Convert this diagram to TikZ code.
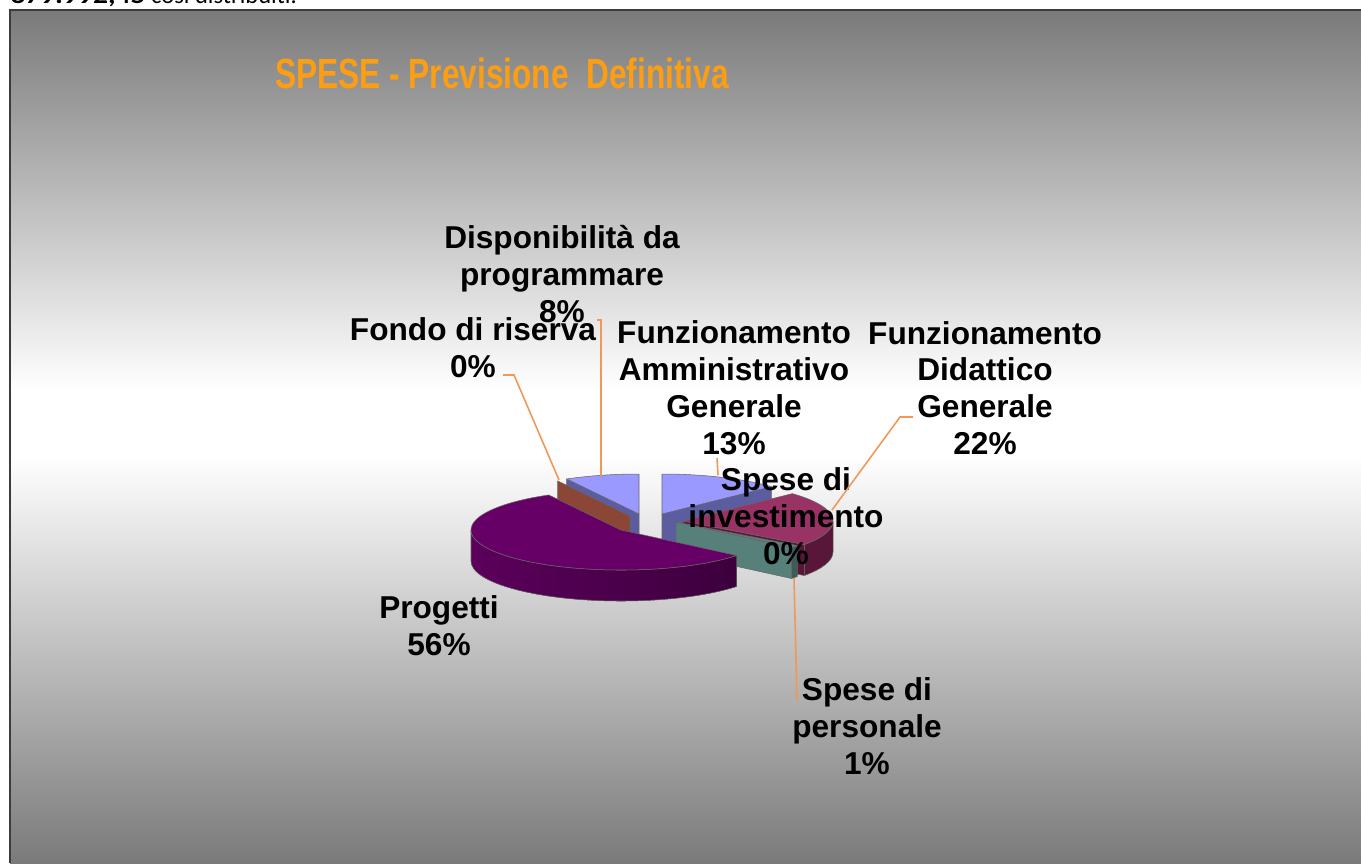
\documentclass[tikz,border=0pt]{standalone}
\usepackage{fontspec}
\setmainfont{Liberation Sans}
\newfontfamily\calib{Carlito}
\usetikzlibrary{calc}
\usetikzlibrary{positioning}
\definecolor{slidegray}{RGB}{122,122,122}
\definecolor{slideedge}{RGB}{60,60,60}
\definecolor{titleorange}{RGB}{252,158,20}
\definecolor{leadercol}{RGB}{240,152,88}
\definecolor{pieperi}{RGB}{153,153,255}
\definecolor{pieperiside}{RGB}{92,92,160}
\definecolor{piemaroon}{RGB}{153,51,102}
\definecolor{piemaroonside}{RGB}{88,22,56}
\definecolor{pieteal}{RGB}{88,128,122}
\definecolor{pietealside}{RGB}{60,92,88}
\definecolor{piepurple}{RGB}{102,0,102}
\definecolor{piepurpleside}{RGB}{60,0,60}
\definecolor{piebrown}{RGB}{140,70,54}
\tikzset{slice/.style={draw=black!60, line width=0.3pt, line join=round},
         lbl/.style={align=center, inner sep=0pt,
                     font=\fontsize{18}{21}\selectfont\bfseries},
         leader/.style={draw=leadercol, line width=0.9pt},
         }
% slice parts: centre, start angle, end angle, style
\newcommand{\pietop}[4]{\filldraw[slice,#4] (#1) -- ($(#1)+(#2:150 and 40)$)
  arc[start angle=#2, end angle=#3, x radius=150, y radius=40] -- cycle;}
\newcommand{\pierim}[4]{\filldraw[slice,#4] ($(#1)+(#2:150 and 40)$)
  arc[start angle=#2, end angle=#3, x radius=150, y radius=40] -- ++(0,31)
  arc[start angle=#3, end angle=#2, x radius=150, y radius=40] -- cycle;}
\newcommand{\pieface}[3]{\filldraw[slice,#3] (#1) -- ($(#1)+(#2:150 and 40)$)
  -- ($(#1)+(#2:150 and 40)+(0,31)$) -- ($(#1)+(0,31)$) -- cycle;}

\begin{document}
\begin{tikzpicture}[x=0.02cm, y=-0.02cm]
\useasboundingbox (0,0) rectangle (1361,863);
% slide
\shade[top color=slidegray, bottom color=white] (10,10) rectangle (1361,390);
\fill[white] (10,389) rectangle (1361,456);
\shade[top color=white, bottom color=slidegray] (10,455) rectangle (1361,863);
\draw[slideedge, line width=1.2pt] (10,863) -- (10,10) -- (1361,10);
\node[anchor=base west, inner sep=0pt, font=\calib\fontsize{14}{17}\selectfont]
  (head) at (10,3) {\scalebox{1.2}[1]{\textbf{379.992,45}} così distribuiti.};
\node[font=\fontsize{24}{28}\selectfont\bfseries, text=titleorange] (title)
  at (502,73) {\scalebox{0.75}[1]{SPESE - Previsione\ \ Definitiva}};

% pie centres
\coordinate (c-disp) at (639,514);
\coordinate (c-fondo) at (630,516);
\coordinate (c-amm) at (662,514);
\coordinate (c-did) at (683,521);
\coordinate (c-pers) at (676,522);
\coordinate (c-prog) at (621,530);

% back slices
\pieface{c-disp}{241.2}{fill=pieperiside}
\pietop{c-disp}{241.2}{270}{fill=pieperi}
\pieface{c-fondo}{241.2}{fill=piebrown}
\pieface{c-amm}{-43.2}{fill=pieperiside}
\pietop{c-amm}{-90}{-43.2}{fill=pieperi}
% right slices
\pierim{c-did}{0}{36}{fill=piemaroonside}
\pieface{c-did}{36}{fill=piemaroonside}
\pietop{c-did}{-43.2}{36}{fill=piemaroon}
\pierim{c-pers}{36}{39.6}{fill=pietealside}
\pieface{c-pers}{39.6}{fill=pieteal}
\pietop{c-pers}{36}{39.6}{fill=pieteal}
% Progetti
\pierim{c-prog}{39.6}{180}{left color=piepurple!90!black, right color=piepurpleside}
\pietop{c-prog}{39.6}{241.2}{fill=piepurple}

% labels
\node[lbl] (disp) at (562,274) {Disponibilità da\\programmare\\8\%};
\node[lbl] (fondo) at (473,348) {Fondo di riserva\\0\%};
\node[lbl] (amm) at (734,388) {Funzionamento\\Amministrativo\\Generale\\13\%};
\node[lbl] (did) at (985,388) {Funzionamento\\Didattico\\Generale\\22\%};
\node[lbl] (inv) at (786,516) {Spese di\\investimento\\0\%};
\node[lbl] (prog) at (439,626) {Progetti\\56\%};
\node[lbl] (pers) at (867,726) {Spese di\\personale\\1\%};

% leader lines
\coordinate (fondo-a) at (503,375);
\coordinate (fondo-b) at (559,480);
\coordinate (disp-a) at (597,320);
\coordinate (disp-b) at (601,476);
\coordinate (amm-a) at (717,458);
\coordinate (amm-b) at (718,475);
\coordinate (did-a) at (913,417);
\coordinate (did-b) at (832,510);
\coordinate (pers-a) at (794,578);
\coordinate (pers-b) at (797,700);
\draw[leader] (fondo-a) -- ++(11,0) -- (fondo-b);
\draw[leader] (disp-a) -- ++(4,0) -- (disp-b);
\draw[leader] (amm-a) -- (amm-b);
\draw[leader] (did-a) -- ++(-13,0) -- (did-b);
\draw[leader] (pers-a) -- (pers-b);
\end{tikzpicture}
\end{document}
